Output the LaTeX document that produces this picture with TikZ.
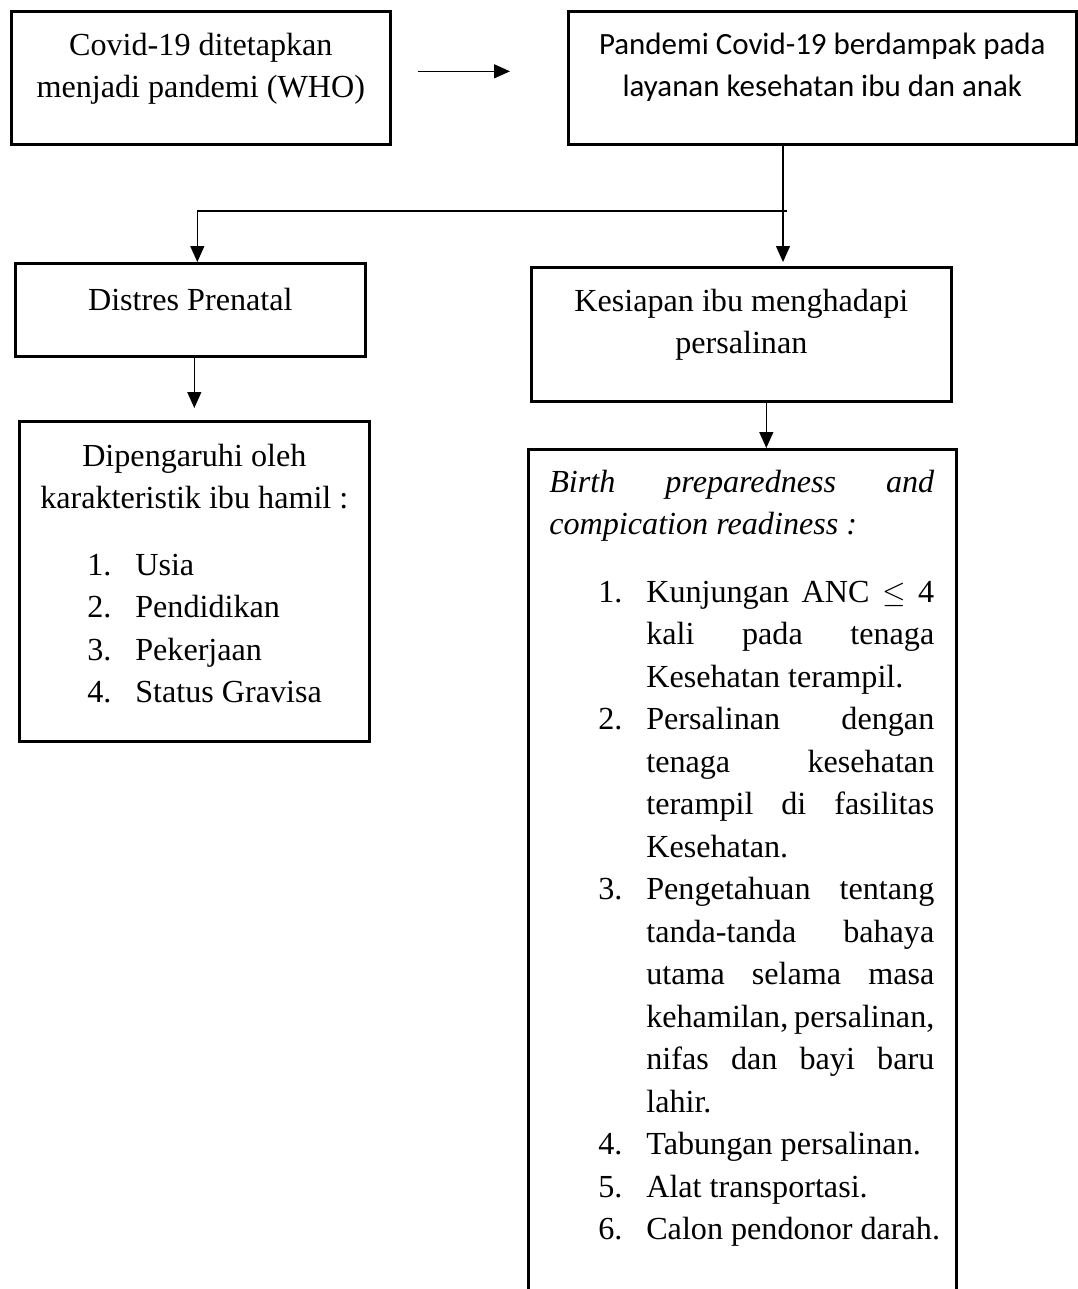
\documentclass[tikz,border=0pt]{standalone}
\usepackage{fontspec}
\setmainfont{Liberation Serif}
\newfontfamily\calibri{Carlito}
\usetikzlibrary{arrows.meta,positioning}
\newlength\pxu
\setlength\pxu{0.02cm}
\newcommand{\boxtext}[4]{\parbox[t][#2\pxu][t]{#1\pxu}{\vspace*{#3\pxu}\strut#4}}
\newcommand{\numline}[3]{\hspace*{#1\pxu}\makebox[48\pxu][l]{#2}#3}
\newcommand{\jline}[1]{\makebox[288\pxu][s]{#1}}

\begin{document}
\begin{tikzpicture}[
    x=0.02cm,y=-0.02cm,
    box/.style={rectangle,draw,line width=1.5pt,inner sep=0pt,anchor=north west,font=\fontsize{18.3pt}{24.2pt}\selectfont},
    arrow/.style={-{Triangle[length=0.32cm,width=0.28cm]},line width=0.75pt}
]
\useasboundingbox (0,0) rectangle (1078,1289);

\node[box] (covid) at (10,10) {\boxtext{379}{133}{14}{{\centering Covid-19 ditetapkan\\ menjadi pandemi (WHO)\par}}};
\node[box,font=\calibri\fontsize{17.6pt}{24.2pt}\selectfont] (pandemi) at (567,10) {\boxtext{508}{133}{13}{{\centering Pandemi Covid-19 berdampak pada\\ layanan kesehatan ibu dan anak\par}}};

\node[box] (distres) at (14,262) {\boxtext{350}{93}{17}{{\centering Distres Prenatal\par}}};
\node[box] (kesiapan) at (530,266) {\boxtext{420}{134}{14}{{\centering Kesiapan ibu menghadapi\\ persalinan\par}}};

\node[box] (pengaruh) at (18,420) {\boxtext{350}{320}{15}{{\centering Dipengaruhi oleh\\ karakteristik ibu hamil :\par}\vspace{24\pxu}
    \numline{68}{1.}{Usia}\\
    \numline{68}{2.}{Pendidikan}\\
    \numline{68}{3.}{Pekerjaan}\\
    \numline{68}{4.}{Status Gravisa}}};

\node[box] (birth) at (527,448) {\boxtext{428}{900}{13}{%
    \hspace*{21\pxu}\makebox[385\pxu][s]{\itshape Birth preparedness and}\\
    \hspace*{21\pxu}\textit{compication readiness :}\\[25\pxu]
    \numline{70}{1.}{\jline{Kunjungan ANC $\leq$ 4}}\\
    \numline{70}{}{\jline{kali pada tenaga}}\\
    \numline{70}{}{Kesehatan terampil.}\\
    \numline{70}{2.}{\jline{Persalinan dengan}}\\
    \numline{70}{}{\jline{tenaga kesehatan}}\\
    \numline{70}{}{\jline{terampil di fasilitas}}\\
    \numline{70}{}{Kesehatan.}\\
    \numline{70}{3.}{\jline{Pengetahuan tentang}}\\
    \numline{70}{}{\jline{tanda-tanda bahaya}}\\
    \numline{70}{}{\jline{utama selama masa}}\\
    \numline{70}{}{\jline{kehamilan, persalinan,}}\\
    \numline{70}{}{\jline{nifas dan bayi baru}}\\
    \numline{70}{}{lahir.}\\
    \numline{70}{4.}{Tabungan persalinan.}\\
    \numline{70}{5.}{Alat transportasi.}\\
    \numline{70}{6.}{Calon pendonor darah.}}};

\coordinate (fork) at (783,211);

\draw[arrow,shorten <=0.52cm,shorten >=1.14cm] ([yshift=0.13cm]covid.east) -- ([yshift=0.13cm]pandemi.west);
\draw[arrow,shorten >=0.08cm] (pandemi.south -| fork) -- (kesiapan.north -| fork);
\draw[arrow] ([xshift=0.08cm]fork) -| ([xshift=0.14cm]distres.north);
\draw[arrow,shorten >=0.24cm] (distres.south -| pengaruh.north) -- (pengaruh.north);
\draw[arrow] ([xshift=0.5cm]kesiapan.south) -- ([xshift=0.5cm]kesiapan.south |- birth.north);
\end{tikzpicture}
\end{document}
